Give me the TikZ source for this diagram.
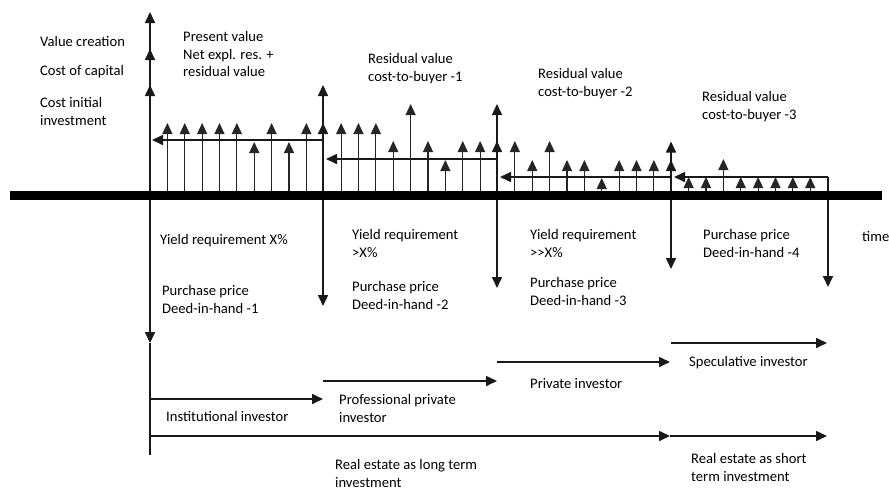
\documentclass[tikz,border=0pt]{standalone}
\usepackage{fontspec}
\setmainfont{Carlito}
\usetikzlibrary{arrows.meta}
\begin{document}
\begin{tikzpicture}[x=1pt,y=-1pt,
  tipup/.style={-{Triangle[width=10pt,length=11pt]}},
  cf/.style={tipup, line width=1.2pt, draw=black!85},
  main/.style={line width=1.6pt, draw=black!90},
  mainarrow/.style={tipup, line width=1.6pt, draw=black!90},
  lbl/.style={anchor=north west, inner sep=0pt, align=left,
    font=\fontsize{14.6}{17.5}\selectfont, text=black},
]
\useasboundingbox (0,0) rectangle (889,491);
\def\sp{17.375}
% key coordinates
\coordinate (a0) at (150,195);
\coordinate (a1) at (323,195);
\coordinate (a2) at (497,195);
\coordinate (a3) at (671,195);
\coordinate (a4) at (828,195);

% small cash-flow arrows
\foreach \k/\t in {1/123,2/123,3/123,4/123,5/123,6/142,7/123,8/142,9/123,
  11/123,12/123,13/123,14/141,15/104,16/141,17/160,18/141,19/141,
  21/141,22/160,23/141,24/160,25/160,26/178,27/160,28/160,29/160,
  31/177,32/177,33/159,34/177,35/177,36/177,37/177,38/177}
  \draw[cf] (150+\k*\sp,195) -- (150+\k*\sp,\t);

% main vertical at start
\draw[mainarrow] (a0) -- (150,12);
\draw[mainarrow] (a0) -- (150,49);
\draw[mainarrow] (a0) -- (150,85);
\draw[mainarrow] (a0) -- (150,343);
\draw[main] (150,343) -- (150,455);

% vertical 1
\draw[mainarrow] (a1) -- (323,85);
\draw[mainarrow] (a1) -- (323,123);
\draw[mainarrow] (a1) -- (323,306);
% vertical 2
\draw[mainarrow] (a2) -- (497,104);
\draw[mainarrow] (a2) -- (497,141);
\draw[mainarrow] (a2) -- (497,288);
% vertical 3
\draw[mainarrow] (a3) -- (671,141.5);
\draw[mainarrow] (a3) -- (671,160);
\draw[mainarrow] (a3) -- (671,269);
% vertical 4
\draw[main] (a4) -- (828,177);
\draw[mainarrow] (a4) -- (828,287);

% horizontal left arrows (present values)
\draw[mainarrow] (323,140) -- (152,140);
\draw[mainarrow] (497,159) -- (326,159);
\draw[mainarrow] (671,177) -- (500,177);
\draw[mainarrow] (828,177) -- (674,177);

% time axis
\draw[line width=9pt] (10,195) -- (882,195);

% investor arrows
\draw[mainarrow] (150,399) -- (323,399);
\draw[mainarrow] (323,381) -- (497,381);
\draw[mainarrow] (497,362) -- (670,362);
\draw[mainarrow] (671,343) -- (827,343);
\draw[mainarrow] (150,436) -- (670,436);
\draw[mainarrow] (670,436) -- (827,436);

% labels
\node[lbl] (vc) at (40,36.5) {Value creation};
\node[lbl] (cc) at (40,65.5) {Cost of capital};
\node[lbl] (ci) at (40,97.5) {Cost initial\\investment};
\node[lbl] (pv) at (183,31.5) {Present value\\Net expl. res. +\\residual value};
\node[lbl] (rv1) at (368,53.5) {Residual value\\cost-to-buyer -1};
\node[lbl] (rv2) at (538,68.5) {Residual value\\cost-to-buyer -2};
\node[lbl] (rv3) at (702,91.5) {Residual value\\cost-to-buyer -3};
\node[lbl] (yr1) at (160,234.5) {Yield requirement X\%};
\node[lbl] (pp1) at (162,285.5) {Purchase price\\Deed-in-hand -1};
\node[lbl] (yr2) at (352,229.5) {Yield requirement\\>X\%};
\node[lbl] (pp2) at (352,281.5) {Purchase price\\Deed-in-hand -2};
\node[lbl] (yr3) at (530,229.5) {Yield requirement\\>\kern0pt>X\%};
\node[lbl] (pp3) at (530,277.5) {Purchase price\\Deed-in-hand -3};
\node[lbl] (pp4) at (703,229.5) {Purchase price\\Deed-in-hand -4};
\node[lbl] (time) at (862,231.5) {time};
\node[lbl] (inst) at (166,411.5) {Institutional investor};
\node[lbl] (prof) at (339,394.5) {Professional private\\investor};
\node[lbl] (priv) at (530,378.5) {Private investor};
\node[lbl] (spec) at (689,356.5) {Speculative investor};
\node[lbl] (long) at (335,459.5) {Real estate as long term\\investment};
\node[lbl] (short) at (691,453.5) {Real estate as short\\term investment};
\end{tikzpicture}
\end{document}
